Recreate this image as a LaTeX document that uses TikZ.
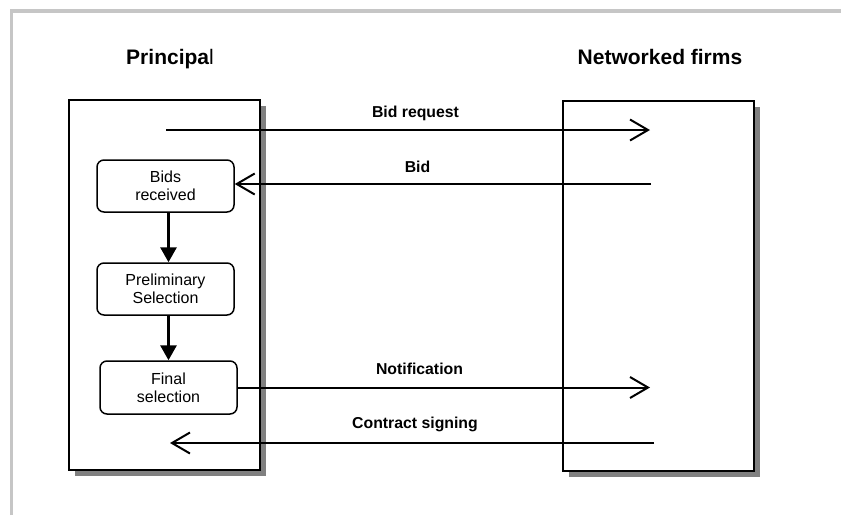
\documentclass[tikz,border=0pt]{standalone}
\usepackage{fontspec}
\setmainfont{Liberation Sans}
\usetikzlibrary{arrows.meta,shadows}
\definecolor{framegray}{HTML}{C6C6C6}
\definecolor{shadowgray}{HTML}{808080}
\begin{document}
\begin{tikzpicture}[x=1pt,y=-1pt,
  lane/.style={draw=black,line width=2pt,fill=white,minimum width=191pt,minimum height=370pt,inner sep=0pt,
    drop shadow={shadow xshift=6pt,shadow yshift=-6pt,fill=shadowgray,opacity=1}},
  stepbox/.style={draw=black,line width=1.5pt,rounded corners=7pt,fill=white,minimum width=137pt,minimum height=52pt,
    align=center,inner sep=0pt,font=\fontsize{16}{18}\selectfont},
  title/.style={font=\fontsize{21}{25}\selectfont\bfseries,anchor=base},
  msg/.style={font=\fontsize{15.8}{18}\selectfont\bfseries,anchor=base},
  openarrow/.style={line width=2pt,-{Straight Barb[length=18pt,width=21pt,line width=2pt]}},
  flow/.style={line width=3pt,-{Triangle[length=15pt,width=16pt]}}
]
\useasboundingbox (0,0) rectangle (841,515);
\draw[framegray,line width=3.5pt] (11.5,515) -- (11.5,11) -- (841,11);

\node[title] (ptitle) at (170,64) {Principa\mdseries l};
\node[title] (ntitle) at (660,64) {Networked firms};

\node[lane] (left) at (164.5,285) {};
\node[lane] (right) at (658.5,286) {};

\node[stepbox] (bids) at (165.5,186) {Bids\\received};
\node[stepbox] (prelim) at (165.5,289) {Preliminary\\Selection};
\node[stepbox,minimum height=53pt] (final) at (168.5,387.5) {Final\\selection};

\coordinate (brs) at (166,130);
\coordinate (bre) at (650,130);
\coordinate (bidsrc) at (651,184);
\coordinate (note) at (650,387.5);
\coordinate (css) at (654,443);
\coordinate (cse) at (170,443);

\draw[openarrow] (brs) -- (bre);
\draw[openarrow] (bidsrc) -- (bidsrc -| bids.east);
\draw[openarrow] (final.east) -- (note);
\draw[openarrow] (css) -- (cse);

\draw[flow] (bids.south -| final.center) -- (prelim.north -| final.center);
\draw[flow] (prelim.south -| final.center) -- (final.north);

\node[msg] (lbr) at (415.5,117) {Bid request};
\node[msg] (lbid) at (417.5,172) {Bid};
\node[msg] (lnote) at (419.5,374) {Notification};
\node[msg] (lcs) at (415,428) {Contract signing};
\end{tikzpicture}
\end{document}
